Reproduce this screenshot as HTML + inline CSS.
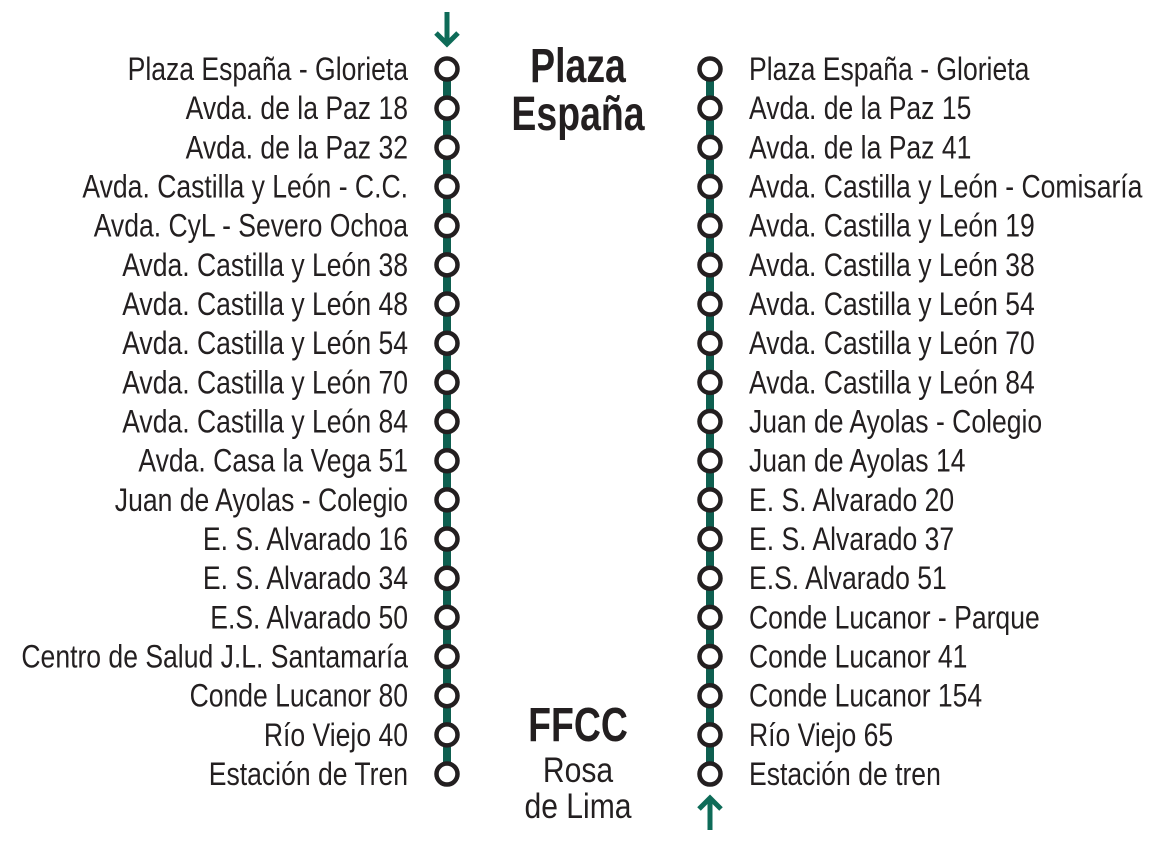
<!DOCTYPE html>
<html><head><meta charset="utf-8"><style>
html,body{margin:0;padding:0;background:#fff;}
svg{display:block;}
text{font-family:"Liberation Sans Narrow","Liberation Sans",sans-serif;fill:#231f20;}
</style></head><body>
<svg width="1159" height="849" viewBox="0 0 1159 849" xmlns="http://www.w3.org/2000/svg">
<line x1="447" y1="69" x2="447" y2="774" stroke="#0e5f50" stroke-width="8"/>
<line x1="710" y1="69" x2="710" y2="774" stroke="#0e5f50" stroke-width="8"/>
<g stroke="#0e6b58" stroke-width="5" fill="none">
<line x1="447" y1="12" x2="447" y2="43"/>
<polyline points="436,33 447,44 458,33"/>
<line x1="710" y1="830" x2="710" y2="799"/>
<polyline points="699,809 710,798 721,809"/>
</g>
<g fill="#fff" stroke="#231f20" stroke-width="4.5" id="circ"></g>
<g transform="translate(408,0) scale(0.83,1)"><g id="lt" font-size="32" text-anchor="end"></g></g>
<g transform="translate(749,0) scale(0.83,1)"><g id="rt" font-size="32" text-anchor="start"></g></g>
<g transform="translate(578,0) scale(0.78,1)" font-weight="bold" font-size="48" text-anchor="middle">
<text x="0" y="82">Plaza</text>
<text x="0" y="130">España</text>
<text x="0" y="741">FFCC</text>
</g>
<g transform="translate(578,0) scale(0.86,1)" font-size="35" text-anchor="middle">
<text x="0" y="782">Rosa</text>
<text x="0" y="818">de Lima</text>
</g>
</svg>
<script>
var L=["Plaza España - Glorieta","Avda. de la Paz 18","Avda. de la Paz 32","Avda. Castilla y León - C.C.","Avda. CyL - Severo Ochoa","Avda. Castilla y León 38","Avda. Castilla y León 48","Avda. Castilla y León 54","Avda. Castilla y León 70","Avda. Castilla y León 84","Avda. Casa la Vega 51","Juan de Ayolas - Colegio","E. S. Alvarado 16","E. S. Alvarado 34","E.S. Alvarado 50","Centro de Salud J.L. Santamaría","Conde Lucanor 80","Río Viejo 40","Estación de Tren"];
var R=["Plaza España - Glorieta","Avda. de la Paz 15","Avda. de la Paz 41","Avda. Castilla y León - Comisaría","Avda. Castilla y León 19","Avda. Castilla y León 38","Avda. Castilla y León 54","Avda. Castilla y León 70","Avda. Castilla y León 84","Juan de Ayolas - Colegio","Juan de Ayolas 14","E. S. Alvarado 20","E. S. Alvarado 37","E.S. Alvarado 51","Conde Lucanor - Parque","Conde Lucanor 41","Conde Lucanor 154","Río Viejo 65","Estación de tren"];
var ns="http://www.w3.org/2000/svg";
var c=document.getElementById("circ"),lt=document.getElementById("lt"),rt=document.getElementById("rt");
for(var i=0;i<19;i++){var y=69+i*39.17;
[447,710].forEach(function(x){var e=document.createElementNS(ns,"circle");e.setAttribute("cx",x);e.setAttribute("cy",y);e.setAttribute("r",10.5);c.appendChild(e);});
var t=document.createElementNS(ns,"text");t.setAttribute("x",0);t.setAttribute("y",y+11);t.textContent=L[i];lt.appendChild(t);
var u=document.createElementNS(ns,"text");u.setAttribute("x",0);u.setAttribute("y",y+11);u.textContent=R[i];rt.appendChild(u);}
</script>
</body></html>
